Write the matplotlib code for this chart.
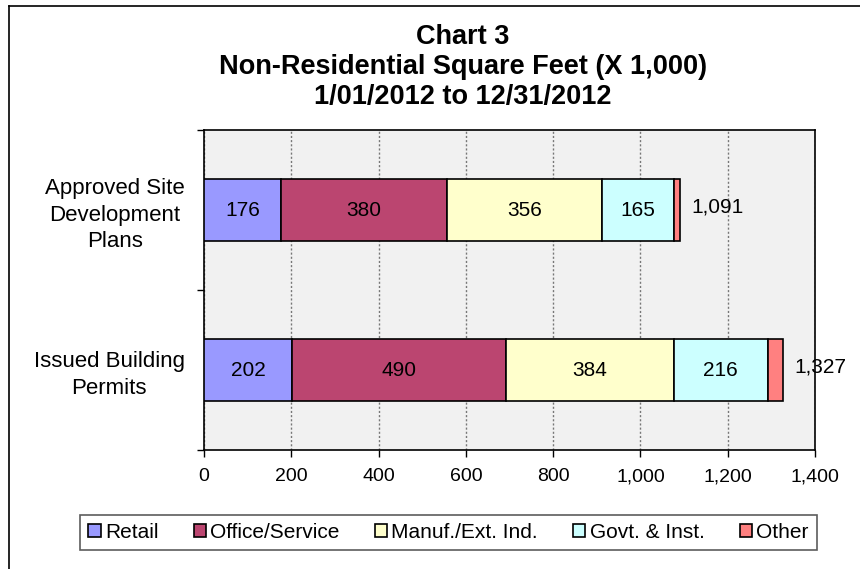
import matplotlib
matplotlib.use("Agg")
import matplotlib.pyplot as plt
from matplotlib.lines import Line2D
import numpy as np

plt.rcParams['font.family'] = ['Liberation Sans', 'DejaVu Sans']

categories = ["Issued Building\nPermits", "Approved Site\nDevelopment\nPlans"]
series_names = ["Retail", "Office/Service", "Manuf./Ext. Ind.", "Govt. & Inst.", "Other"]
retail = [202, 176]
office = [490, 380]
manuf = [384, 356]
govt = [216, 165]
other = [35, 14]
totals = [1327, 1091]
xticks = [0, 200, 400, 600, 800, 1000, 1200, 1400]
xtick_labels = ["0", "200", "400", "600", "800", "1,000", "1,200", "1,400"]

colors = ["#9999FF", "#BB4570", "#FFFFCC", "#CCFFFF", "#FF8080"]
series = [retail, office, manuf, govt, other]

fig = plt.figure(figsize=(8.6, 5.69), dpi=100)
fig.patch.set_facecolor("white")

# outer chart frame (only left and top visible)
fig.add_artist(Line2D([9/860, 9/860], [0, 1 - 6/569], transform=fig.transFigure, color="black", lw=1.2))
fig.add_artist(Line2D([9/860, 1], [1 - 6/569, 1 - 6/569], transform=fig.transFigure, color="black", lw=1.2))

ax = fig.add_axes([204/860, 1 - 450/569, 611/860, 320/569])
ax.set_facecolor("#F1F1F1")

y = np.arange(len(categories))
left = np.zeros(len(categories))
for name, vals, c in zip(series_names, series, colors):
    bars = ax.barh(y, vals, left=left, height=0.39, color=c, edgecolor="black", linewidth=1.2, label=name, zorder=3)
    if name != "Other":
        for b, v in zip(bars, vals):
            ax.text(b.get_x() + b.get_width() / 2, b.get_y() + b.get_height() / 2, f"{v:,}",
                    ha="center", va="center", fontsize=15, zorder=4)
    left += np.array(vals)

for yi, t in zip(y, totals):
    ax.annotate(f"{t:,}", xy=(t, yi), xytext=(8, 2), textcoords="offset points",
                ha="left", va="center", fontsize=15, zorder=4)

ax.set_xlim(0, 1400)
ax.set_ylim(-0.5, 1.5)
ax.set_xticks(xticks)
ax.set_xticklabels(xtick_labels, fontsize=14)
ax.tick_params(axis="x", direction="out", length=5, width=1, pad=8)
ax.set_yticks([-0.5, 0.5, 1.5])
ax.set_yticklabels(["", "", ""])
ax.set_yticks(y, minor=True)
ax.set_yticklabels(categories, minor=True, fontsize=16)
ax.tick_params(axis="y", which="major", direction="out", length=5, width=1)
ax.tick_params(axis="y", which="minor", length=0, pad=14)
for lbl in ax.get_yticklabels(minor=True):
    lbl.set_multialignment("center")
    lbl.set_linespacing(1.35)

ax.xaxis.grid(True, color="#777777", linestyle=(0, (1.5, 1.5)), linewidth=1, zorder=0)
ax.set_axisbelow(True)
for s in ax.spines.values():
    s.set_color("black")
    s.set_linewidth(1.2)

fig.text(0.538, 1 - 67/569, "Chart 3\nNon-Residential Square Feet (X 1,000)\n1/01/2012 to 12/31/2012",
         ha="center", va="center", fontsize=19.5, fontweight="bold", linespacing=1.21)

leg = fig.legend(loc="center", bbox_to_anchor=(448.5/860, 1 - 532.5/569), ncol=5, fontsize=15,
                 frameon=True, fancybox=False, edgecolor="#333333", handlelength=0.6, handleheight=0.6,
                 handletextpad=0.2, columnspacing=1.68, borderpad=0.4, borderaxespad=0)
leg.get_frame().set_linewidth(1.2)

fig.savefig("out.png", dpi=100)
